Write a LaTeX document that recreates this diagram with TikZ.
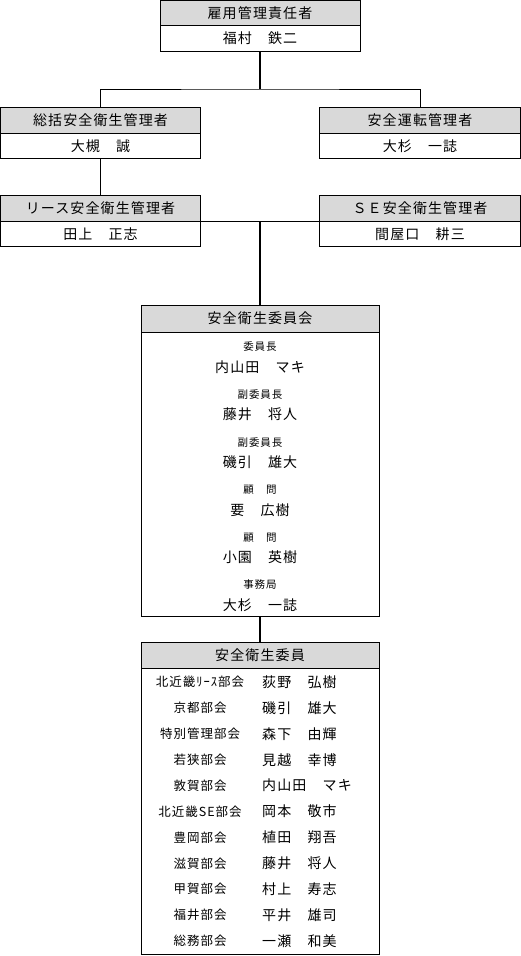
\documentclass[tikz,border=0pt]{standalone}
\usepackage{fontspec}
\newfontfamily\jp{Noto Sans CJK JP}[LetterSpace=8]
\usetikzlibrary{positioning, calc}
\definecolor{hdgray}{RGB}{217,217,217}

\begin{document}
\begin{tikzpicture}[
  x=1pt, y=-1pt,
  every node/.style={font=\jp\fontsize{14}{16}\selectfont, text=black, inner sep=0pt},
  cell/.style={rectangle, draw=black, line width=0.8pt, outer sep=0pt,
               minimum height=25.5pt},
  head/.style={cell, fill=hdgray},
  who/.style={cell, fill=white},
  role/.style={font=\jp\fontsize{10.5}{12}\selectfont},
  unit/.style={font=\jp\fontsize{12.5}{14}\selectfont},
  link/.style={line width=0.8pt},
  trunk/.style={line width=1.6pt}
]
\useasboundingbox (0,0) rectangle (521,956);

% --- Top ---
\node[head, minimum width=200pt] (emph) at (260,12.75) {雇用管理責任者};
\node[who,  minimum width=200pt, below=0pt of emph] (empn) {福村　鉄二};

% --- Managers, first row ---
\node[head, minimum width=200pt] (gsh) at (100.5,120.5) {総括安全衛生管理者};
\node[who,  minimum width=200pt, below=0pt of gsh] (gsn) {大槻　誠};
\node[head, minimum width=201pt] (udh) at (420,120.5) {安全運転管理者};
\node[who,  minimum width=201pt, below=0pt of udh] (udn) {大杉　一誌};

% --- Managers, second row ---
\node[head, minimum width=200pt] (lsh) at (100.5,208.5) {リース安全衛生管理者};
\node[who,  minimum width=200pt, below=0pt of lsh] (lsn) {田上　正志};
\node[head, minimum width=201pt] (seh) at (420,208.5) {ＳＥ安全衛生管理者};
\node[who,  minimum width=201pt, below=0pt of seh] (sen) {間屋口　耕三};

% --- Committee ---
\node[head, minimum width=238pt, minimum height=27pt] (cmh) at (260,318.5) {安全衛生委員会};
\node[who,  minimum width=238pt, minimum height=284pt, below=0pt of cmh] (cmb) {};
\foreach \post/\pers [count=\i from 0] in {委員長/内山田　マキ, 副委員長/藤井　将人,
    副委員長/磯引　雄大, 顧　問/要　広樹, 顧　問/小園　英樹, 事務局/大杉　一誌} {
  \node[role] (cmr\i) at ($(cmb.north)+(0,15+47.6*\i)$) {\post};
  \node       (cmp\i) at ($(cmb.north)+(0,35+47.6*\i)$) {\pers};
}

% --- Members ---
\node[head, minimum width=238pt, minimum height=26pt] (mbh) at (260,655) {安全衛生委員};
\node[who,  minimum width=238pt, minimum height=286pt, below=0pt of mbh] (mbb) {};
\foreach \grp/\pers [count=\i from 0] in {北近畿ﾘｰｽ部会/荻野　弘樹, 京都部会/磯引　雄大,
    特別管理部会/森下　由輝, 若狭部会/見越　幸博, 敦賀部会/内山田　マキ,
    北近畿SE部会/岡本　敬市, 豊岡部会/植田　翔吾, 滋賀部会/藤井　将人,
    甲賀部会/村上　寿志, 福井部会/平井　雄司, 総務部会/一瀬　和美} {
  \node[unit]         (mbg\i) at ($(mbb.north west)+(59,14+25.9*\i)$) {\grp};
  \node[anchor=west]  (mbp\i) at ($(mbb.north west)+(121,14+25.9*\i)$) {\pers};
}

% --- Lines ---
\coordinate (fork) at (260,89);
\draw[trunk] (empn.south) -- (fork);
\draw[link]  (gsh.north) |- (fork) -| (udh.north);
\draw[link]  (gsn.south) -- (lsh.north);
\draw[link]  (lsh.south east) -- (seh.south west);
\draw[trunk] ($(lsh.south east)!0.5!(seh.south west)$) -- (cmh.north);
\draw[trunk] (cmb.south) -- (mbh.north);

\end{tikzpicture}
\end{document}
